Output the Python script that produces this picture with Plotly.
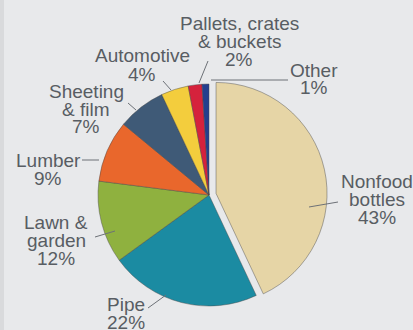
import plotly.graph_objects as go

# ---- data ----
categories = ["Nonfood bottles", "Pipe", "Lawn & garden", "Lumber",
              "Sheeting & film", "Automotive", "Pallets, crates & buckets", "Other"]
shares = [43, 22, 12, 9, 7, 4, 2, 1]
label_lines = [["Nonfood", "bottles"], ["Pipe"], ["Lawn &", "garden"], ["Lumber"],
               ["Sheeting", "& film"], ["Automotive"], ["Pallets, crates", "& buckets"], ["Other"]]

# ---- style / layout ----
colors = ["#e6d5a6", "#1b8ba2", "#8fb13f", "#e9672c", "#3f5a77", "#f3cd3d", "#d5223c", "#243f8e"]
W, H = 413, 330
CX, CY, R = 209, 195, 111
PULL = 0.065
bg = "#e8e9eb"
txt_color = "#585d63"
FONT = "Liberation Sans, Arial, sans-serif"
FS = 19

# label anchor (center x, first-line center y) in px, and leader lines (px)
label_pos = [(377, 181), (126, 304), (56, 222), (48, 160), (86, 91), (142, 56), (239, 23), (314, 70)]
leaders = [((309, 207), (338, 202)), ((148, 308), (166, 295)), ((95, 237), (115, 231)),
           ((82, 160), (99, 160)), ((128, 103), (136, 110)), ((163, 81), (171, 90)),
           ((199, 83), (208, 61)), ((211, 80), (288, 80))]
LINE_GAP = 18

rx = R * (1 + PULL)
dom_x = [(CX - rx) / W, (CX + rx) / W]
dom_y = [1 - (CY + rx) / H, 1 - (CY - rx) / H]

fig = go.Figure(go.Pie(
    labels=categories, values=shares, sort=False, direction="clockwise", rotation=0,
    marker=dict(colors=colors, line=dict(color="rgba(70,70,70,0.55)", width=0.8)),
    pull=[PULL] + [0] * (len(shares) - 1),
    textinfo="none", hoverinfo="label+percent", showlegend=False,
    domain=dict(x=dom_x, y=dom_y),
))

annotations = []
for lines, v, (lx, ly) in zip(label_lines, shares, label_pos):
    all_lines = lines + [f"{v}%"]
    for i, t in enumerate(all_lines):
        annotations.append(dict(
            x=lx / W, y=1 - (ly + i * LINE_GAP) / H, xref="paper", yref="paper",
            text=t, showarrow=False, xanchor="center", yanchor="middle",
            font=dict(family=FONT, size=FS, color=txt_color)))

shapes = [dict(type="line", xref="paper", yref="paper",
               x0=a[0] / W, y0=1 - a[1] / H, x1=b[0] / W, y1=1 - b[1] / H,
               line=dict(color="#6d7177", width=1)) for a, b in leaders]
shapes.append(dict(type="rect", xref="paper", yref="paper", x0=0, x1=4 / W, y0=0, y1=1,
                   fillcolor="#d9dadc", line=dict(width=0), layer="below"))

fig.update_layout(
    width=W, height=H, margin=dict(l=0, r=0, t=0, b=0),
    paper_bgcolor=bg, plot_bgcolor=bg,
    annotations=annotations, shapes=shapes,
)
fig.write_html("out.html")
